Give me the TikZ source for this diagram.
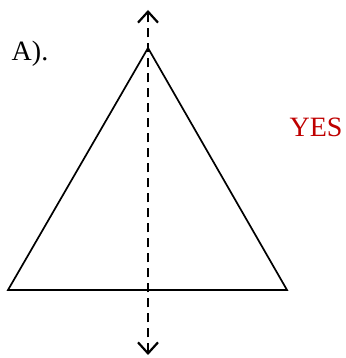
\documentclass[tikz,border=0pt]{standalone}
\usepackage{fontspec}
\setmainfont{Liberation Serif}
\usepackage{tikz}
\usetikzlibrary{calc}
\usetikzlibrary{arrows.meta}

\begin{document}
\begin{tikzpicture}[x = 1pt, y = 1pt]

\tikzstyle{side}=[line width = 1.7, color = black]
\tikzstyle{axis}=[line width = 2.2, color = black, dash pattern = on 9 off 6]
\tikzstyle{label_txt}=[font = \fontsize{28}{32}\selectfont, inner sep = 0]

\useasboundingbox (0, 0) rectangle (345, 358);

\coordinate (apex) at (148, 310);
\coordinate (bl) at (8, 68);
\coordinate (br) at (287, 68);
\coordinate (top) at (148, 348);
\coordinate (bot) at (148, 3);

\path
(30, 304) node[label_txt](name) {A).}
(316, 231) node[label_txt, text = red!75!black](answer) {YES};

%triangle
\draw[side] (apex) -- (bl) -- (br) -- cycle;

%symmetry line
\draw[axis, {Straight Barb[length = 11, width = 20, line width = 2.2]}-{Straight Barb[length = 11, width = 20, line width = 2.2]}] (bot) to (top);

\end{tikzpicture}
\end{document}
